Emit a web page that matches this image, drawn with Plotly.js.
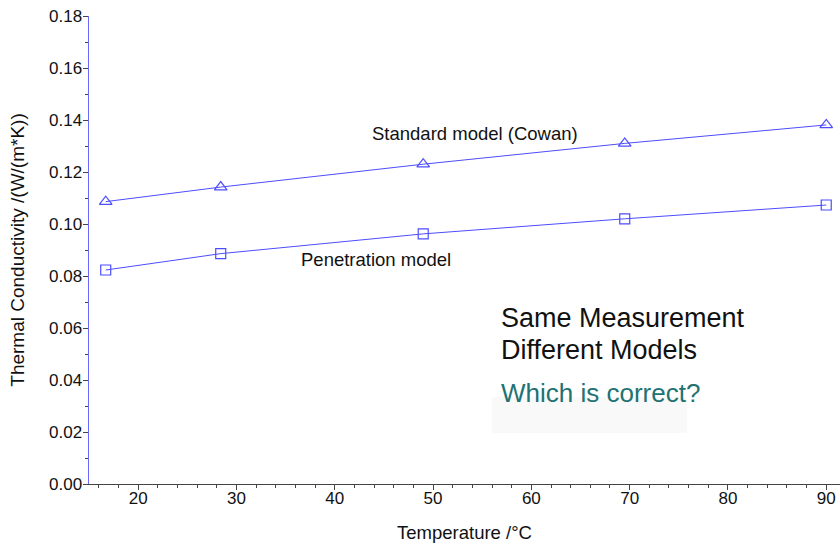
<!DOCTYPE html>
<html>
<head>
<meta charset="utf-8">
<script src="https://cdn.plot.ly/plotly-3.0.1.min.js"></script>
<style>html,body{margin:0;padding:0;background:#fff;}#chart{width:840px;height:545px;}</style>
</head>
<body>
<div id="chart"></div>
<script>
const temperature = [16.7, 28.4, 49.0, 69.5, 90.0];
const standardModel = [0.1086, 0.1142, 0.1230, 0.1310, 0.1381];
const penetrationModel = [0.0823, 0.0886, 0.0962, 0.1020, 0.1073];
const yTickVals = [0, 0.02, 0.04, 0.06, 0.08, 0.10, 0.12, 0.14, 0.16, 0.18];
const yTickText = ["0.00","0.02","0.04","0.06","0.08","0.10","0.12","0.14","0.16","0.18"];
const xTickVals = [20, 30, 40, 50, 60, 70, 80, 90];

const lineColor = '#4d4dff';
const font = 'Arial, "Liberation Sans", sans-serif';

const traces = [
  {x: temperature, y: standardModel, type: 'scatter', mode: 'lines+markers', name: 'Standard model (Cowan)',
   line: {color: lineColor, width: 1},
   marker: {symbol: 'triangle-up-open', size: 11, color: lineColor, line: {width: 1.2, color: lineColor}}},
  {x: temperature, y: penetrationModel, type: 'scatter', mode: 'lines+markers', name: 'Penetration model',
   line: {color: lineColor, width: 1},
   marker: {symbol: 'square-open', size: 10, color: lineColor, line: {width: 1.2, color: lineColor}}}
];

const layout = {
  width: 840, height: 545,
  margin: {l: 89, r: 0, t: 16, b: 61},
  paper_bgcolor: '#fff', plot_bgcolor: '#fff',
  showlegend: false,
  font: {family: font, color: '#111', size: 17},
  xaxis: {
    range: [15, 91.4], showgrid: false, zeroline: false,
    showline: true, linecolor: '#444', linewidth: 1,
    tickmode: 'array', tickvals: xTickVals,
    ticks: 'outside', ticklen: 5, tickcolor: '#444', tickwidth: 1,
    ticklabelstandoff: -6,
    minor: {dtick: 2, ticks: 'outside', ticklen: 3, tickcolor: '#444', showgrid: false},
    tickfont: {size: 17, family: font, color: '#111'},
    title: {text: 'Temperature /°C', font: {size: 18.5, family: font, color: '#111'}, standoff: 18}
  },
  yaxis: {
    range: [0, 0.18], showgrid: false, zeroline: false,
    showline: true, linecolor: '#6a6aff', linewidth: 1.5,
    tickmode: 'array', tickvals: yTickVals, ticktext: yTickText,
    ticks: 'outside', ticklen: 5, tickcolor: '#444', tickwidth: 1,
    ticklabelstandoff: -3,
    minor: {dtick: 0.01, ticks: 'outside', ticklen: 3, tickcolor: '#444', showgrid: false},
    tickfont: {size: 17, family: font, color: '#111'},
    title: {text: 'Thermal Conductivity /(W/(m*K))', font: {size: 19, family: font, color: '#111'}, standoff: 19}
  },
  shapes: [
    {type: 'rect', xref: 'paper', yref: 'paper', x0: (492-89)/751, x1: (687-89)/751, y0: (484-433)/468, y1: (484-397)/468,
     fillcolor: '#f9f9f9', line: {width: 0}, layer: 'below'}
  ],
  annotations: [
    {x: 43.6, y: 0.135, xref: 'x', yref: 'y', text: 'Standard model (Cowan)', showarrow: false, xanchor: 'left', yanchor: 'middle',
     font: {size: 18.5, family: font, color: '#111'}},
    {x: 36.4, y: 0.0862, xref: 'x', yref: 'y', text: 'Penetration model', showarrow: false, xanchor: 'left', yanchor: 'middle',
     font: {size: 18.5, family: font, color: '#111'}},
    {x: (499-89)/751, y: (484-318)/468, xref: 'paper', yref: 'paper', text: 'Same Measurement', showarrow: false, xanchor: 'left', yanchor: 'middle',
     font: {size: 27, family: font, color: '#111'}},
    {x: (499-89)/751, y: (484-350)/468, xref: 'paper', yref: 'paper', text: 'Different Models', showarrow: false, xanchor: 'left', yanchor: 'middle',
     font: {size: 27, family: font, color: '#111'}},
    {x: (499-89)/751, y: (484-393)/468, xref: 'paper', yref: 'paper', text: 'Which is correct?', showarrow: false, xanchor: 'left', yanchor: 'middle',
     font: {size: 26, family: font, color: '#217273'}}
  ]
};

Plotly.newPlot('chart', traces, layout, {displayModeBar: false, staticPlot: true});
</script>
</body>
</html>
